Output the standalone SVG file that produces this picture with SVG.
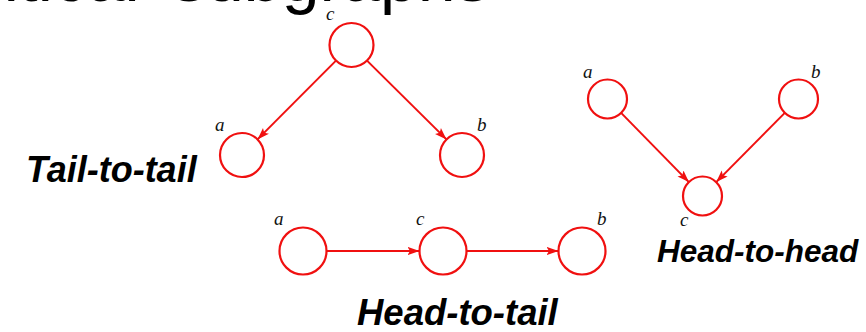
<svg xmlns="http://www.w3.org/2000/svg" width="866" height="332" viewBox="0 0 866 332">
  <style>
    .node { fill: #ffffff; stroke: #f01010; stroke-width: 2.2; }
    .edge { stroke: #f01010; stroke-width: 2; fill: none; }
    .lbl { font-family: "Liberation Serif", serif; font-style: italic; font-size: 19px; fill: #111111; }
    .cap { font-family: "Liberation Sans", Arial, sans-serif; font-weight: bold; font-style: italic; fill: #000000; }
    .title { font-family: "Liberation Sans", Arial, sans-serif; font-size: 68px; fill: #000000; }
  </style>
  <defs>
    <marker id="arr" markerUnits="userSpaceOnUse" markerWidth="13" markerHeight="10" refX="12" refY="5" orient="auto">
      <path d="M0,0.8 L12,5 L0,9.2 L2.5,5 z" fill="#f01010"/>
    </marker>
  </defs>
  <rect width="866" height="332" fill="#ffffff"/>
  <text class="title" y="1"><tspan x="-53">critical</tspan><tspan x="172">subgraphs</tspan></text>

  <g id="connectors">
    <line class="edge" x1="336.0" y1="60.6" x2="257.5" y2="139.4" marker-end="url(#arr)"/>
    <line class="edge" x1="367.0" y1="60.6" x2="446.5" y2="139.4" marker-end="url(#arr)"/>
    <line class="edge" x1="621.1" y1="112.9" x2="688.9" y2="182.1" marker-end="url(#arr)"/>
    <line class="edge" x1="784.8" y1="112.9" x2="716.2" y2="182.1" marker-end="url(#arr)"/>
    <line class="edge" x1="326.5" y1="251" x2="419.5" y2="251" marker-end="url(#arr)"/>
    <line class="edge" x1="466.5" y1="251" x2="558.5" y2="251" marker-end="url(#arr)"/>
  </g>

  <g id="tt-c"><circle class="node" cx="351.5" cy="45" r="22"/><text class="lbl" x="326" y="20">c</text></g>
  <g id="tt-a"><circle class="node" cx="242" cy="155" r="22"/><text class="lbl" x="215" y="131">a</text></g>
  <g id="tt-b"><circle class="node" cx="462" cy="155" r="22"/><text class="lbl" x="477" y="131">b</text></g>

  <g id="hh-a"><circle class="node" cx="607.5" cy="99" r="19.5"/><text class="lbl" x="583" y="78">a</text></g>
  <g id="hh-b"><circle class="node" cx="798.5" cy="99" r="19.5"/><text class="lbl" x="811" y="78">b</text></g>
  <g id="hh-c"><circle class="node" cx="702.5" cy="196" r="19.5"/><text class="lbl" x="680" y="226">c</text></g>

  <g id="ht-a"><circle class="node" cx="303" cy="251" r="23.5"/><text class="lbl" x="274" y="225">a</text></g>
  <g id="ht-c"><circle class="node" cx="443" cy="251" r="23.5"/><text class="lbl" x="416" y="225">c</text></g>
  <g id="ht-b"><circle class="node" cx="582" cy="251" r="23.5"/><text class="lbl" x="597" y="225">b</text></g>

  <text class="cap" x="26" y="182" font-size="36">Tail-to-tail</text>
  <text class="cap" x="657" y="262" font-size="31.5">Head-to-head</text>
  <text class="cap" x="357" y="325" font-size="36.5">Head-to-tail</text>
</svg>
